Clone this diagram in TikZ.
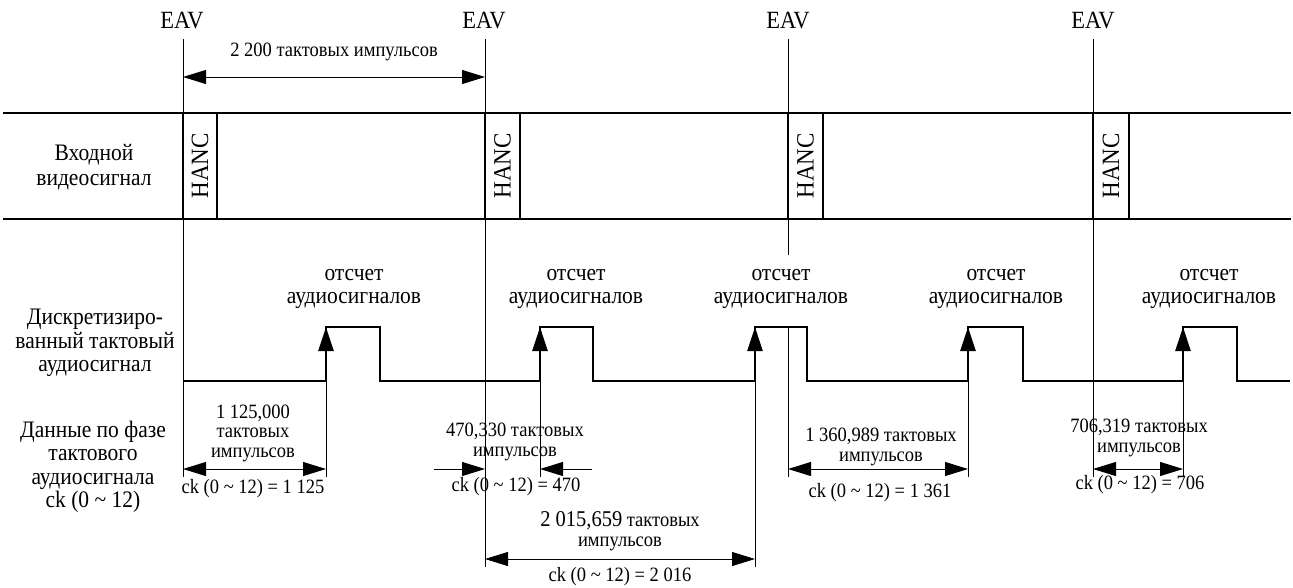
\documentclass[tikz,border=0pt]{standalone}
\usepackage{fontspec}
\setmainfont{Liberation Serif}
\usetikzlibrary{arrows.meta}
\newcommand\vs[1]{\scalebox{1}[1.1]{#1}}
\begin{document}
\begin{tikzpicture}[x=1pt,y=-1pt,
  thinln/.style={line width=0.8pt},
  thickln/.style={line width=2.7pt},
  dim/.style={line width=0.9pt, {Triangle[length=23pt,width=14pt]}-{Triangle[length=23pt,width=14pt]}},
  onetip/.style={line width=0.9pt, -{Triangle[length=23pt,width=14pt]}},
  edgetip/.style={line width=2.7pt, -{Triangle[length=24pt,width=15pt]}},
  lbl/.style={font=\fontsize{21.5}{23.5}\selectfont, align=center, inner sep=0pt},
  eavlbl/.style={font=\fontsize{22.5}{23.5}\selectfont, inner sep=0pt},
  small/.style={font=\fontsize{18.5}{19.5}\selectfont, align=center, inner sep=0pt},
  hanc/.style={font=\fontsize{23}{23}\selectfont, rotate=90, inner sep=0pt},
]
\useasboundingbox (0,0) rectangle (1293,587);

% EAV labels
\node[eavlbl] (eav1) at (182,21) {\vs{EAV}};
\node[eavlbl] (eav2) at (484,21) {\vs{EAV}};
\node[eavlbl] (eav3) at (788,21) {\vs{EAV}};
\node[eavlbl] (eav4) at (1093,21) {\vs{EAV}};

% vertical EAV lines
\coordinate (e1t) at (183,39);  \coordinate (e1b) at (183,477);
\coordinate (e2t) at (485,39);  \coordinate (e2b) at (485,567);
\coordinate (e3t) at (788,39);  \coordinate (e3m) at (788,255);
\coordinate (e3u) at (788,328); \coordinate (e3b) at (788,477);
\coordinate (e4t) at (1093,39); \coordinate (e4b) at (1093,477);
\draw[thinln] (e1t) -- (e1b);
\draw[thinln] (e2t) -- (e2b);
\draw[thinln] (e3t) -- (e3m);
\draw[thinln] (e3u) -- (e3b);
\draw[thinln] (e4t) -- (e4b);

% top dimension
\coordinate (ta) at (183,77); \coordinate (tb) at (485,77);
\draw[dim] (ta) -- (tb);
\node[small] (t2200) at (334,52) {\vs{2 200 тактовых импульсов}};

% video band
\coordinate (bl1) at (3,113); \coordinate (br1) at (1291,113);
\coordinate (bl2) at (3,219); \coordinate (br2) at (1291,219);
\draw[thickln] (bl1) -- (br1);
\draw[thickln] (bl2) -- (br2);
\foreach \x in {183,217,485,520,788,823,1093,1129}
  \draw[thickln] (\x,113) -- (\x,219);
\node[hanc] (h1) at (200,166) {\scalebox{1}[1.08]{HANC}};
\node[hanc] (h2) at (502.5,166) {\scalebox{1}[1.08]{HANC}};
\node[hanc] (h3) at (805.5,166) {\scalebox{1}[1.08]{HANC}};
\node[hanc] (h4) at (1111,166) {\scalebox{1}[1.08]{HANC}};

% left labels
\node[lbl, font=\fontsize{21.5}{25}\selectfont] (lvid) at (94,167) {\vs{Входной}\\\vs{видеосигнал}};
\node[lbl] (laud) at (95,343) {\vs{Дискретизиро-}\\\vs{ванный тактовый}\\\vs{аудиосигнал}};
\node[lbl] (lph) at (93,467) {\vs{Данные по фазе}\\\vs{тактового}\\\vs{аудиосигнала}\\\vs{ck (0 \textasciitilde\ 12)}};

% audio clock signal
\draw[thickln] (183,381) -- (326,381) -- (326,327) -- (380,327) -- (380,381)
  -- (540,381) -- (540,327) -- (593,327) -- (593,381)
  -- (755,381) -- (755,327) -- (807,327) -- (807,381)
  -- (968,381) -- (968,327) -- (1023,327) -- (1023,381)
  -- (1183,381) -- (1183,327) -- (1237,327) -- (1237,381) -- (1290,381);
\foreach \x in {326,540,755,968,1183}
  \draw[edgetip] (\x,381) -- (\x,327);

% thin lines below rising edges
\draw[thinln] (326,381) -- (326,477);
\draw[thinln] (540,381) -- (540,477);
\draw[thinln] (755,381) -- (755,567);
\draw[thinln] (968,381) -- (968,477);
\draw[thinln] (1183,381) -- (1183,477);

% sample labels
\node[lbl] (s1) at (354,289) {\vs{отсчет}\\\vs{аудиосигналов}};
\node[lbl] (s2) at (576,289) {\vs{отсчет}\\\vs{аудиосигналов}};
\node[lbl] (s3) at (781,289) {\vs{отсчет}\\\vs{аудиосигналов}};
\node[lbl] (s4) at (996,289) {\vs{отсчет}\\\vs{аудиосигналов}};
\node[lbl] (s5) at (1209,289) {\vs{отсчет}\\\vs{аудиосигналов}};

% dimension a
\draw[dim] (183,469) -- (326,469);
\node[small] (da) at (253,433) {\vs{1 125,000}\\\vs{тактовых}\\\vs{импульсов}};
\node[small] (ca) at (253,489) {\vs{ck (0 \textasciitilde\ 12) = 1 125}};

% dimension b
\draw[onetip] (434,469) -- (485,469);
\draw[onetip] (592,469) -- (540,469);
\node[small] (db) at (515,442) {\vs{470,330 тактовых}\\\vs{импульсов}};
\node[small] (cb) at (516,487) {\vs{ck (0 \textasciitilde\ 12) = 470}};

% dimension c
\draw[dim] (485,559) -- (755,559);
\node[small] (dc) at (620,531) {\vs{{\fontsize{20.5}{19.5}\selectfont 2 015,659} тактовых}\\\vs{импульсов}};
\node[small] (cc) at (620,577) {\vs{ck (0 \textasciitilde\ 12) = 2 016}};

% dimension d
\draw[dim] (788,469) -- (968,469);
\node[small] (dd) at (881,447) {\vs{1 360,989 тактовых}\\\vs{импульсов}};
\node[small] (cd) at (880,493) {\vs{ck (0 \textasciitilde\ 12) = 1 361}};

% dimension e
\draw[dim] (1093,469) -- (1183,469);
\node[small] (de) at (1139,438) {\vs{706,319 тактовых}\\\vs{импульсов}};
\node[small] (ce) at (1140,485) {\vs{ck (0 \textasciitilde\ 12) = 706}};
\end{tikzpicture}
\end{document}
